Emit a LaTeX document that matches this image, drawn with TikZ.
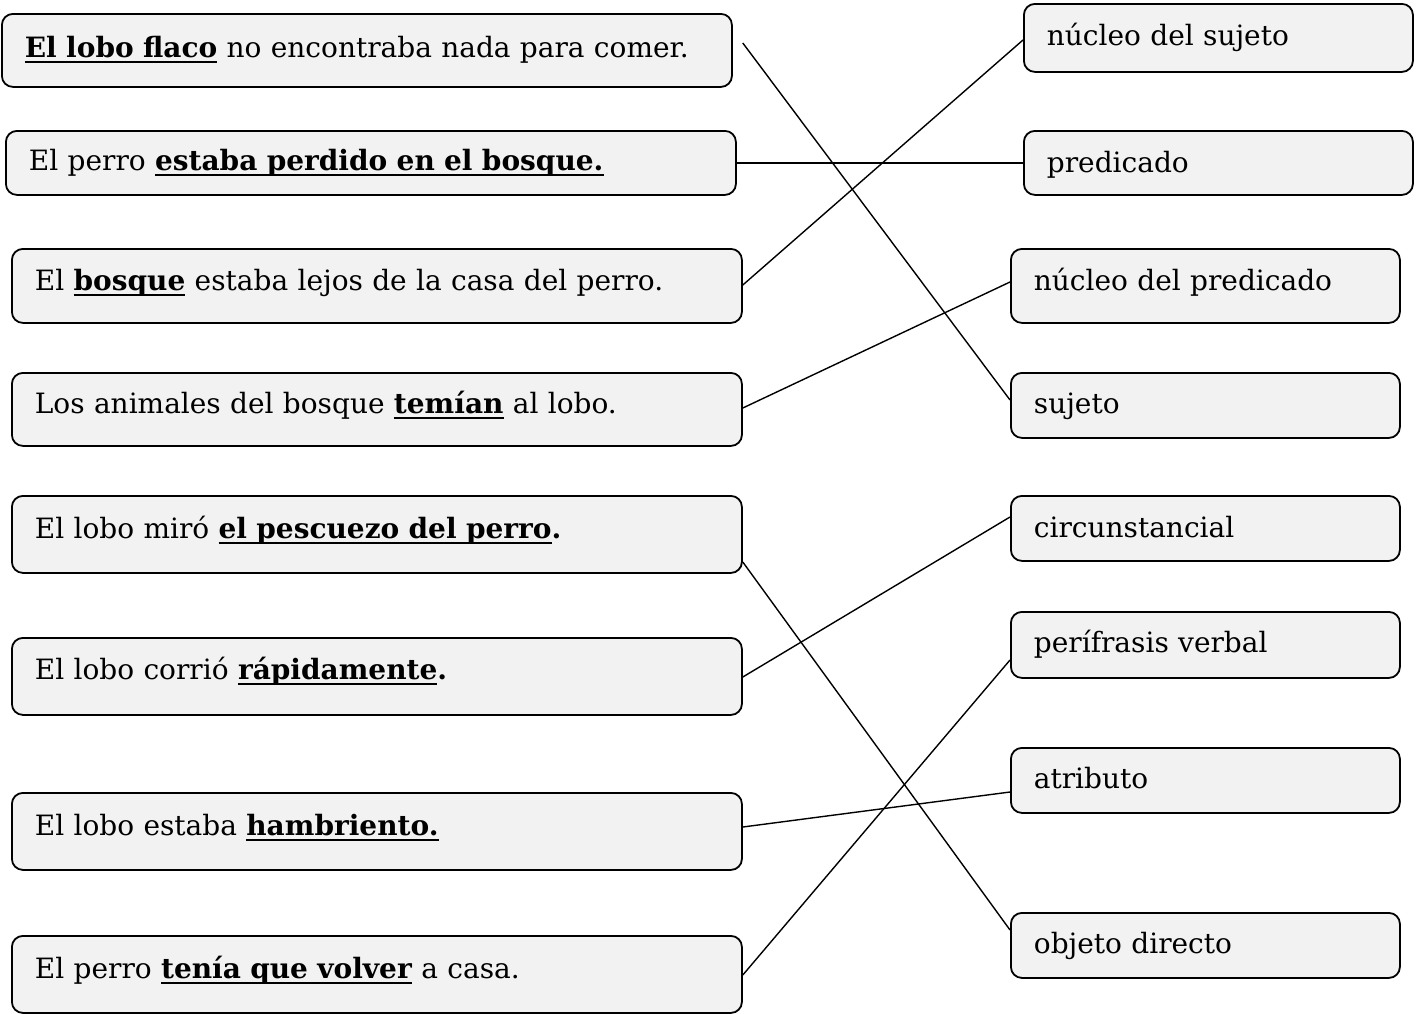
\documentclass[tikz,border=0pt]{standalone}
\usepackage{fontspec}
\setmainfont{DejaVu Serif}
\usetikzlibrary{calc}
\definecolor{boxfill}{HTML}{F2F2F2}
\newsavebox\ulbox
\newcommand\ulb[1]{\sbox\ulbox{\textbf{#1}}\rlap{\rule[-5pt]{\wd\ulbox}{2.2pt}}\usebox\ulbox}
\begin{document}
\begin{tikzpicture}[x=1pt,y=-1pt,
  box/.style={draw=black,line width=1.8pt,fill=boxfill,rounded corners=11pt,
    anchor=north west,inner xsep=23pt,inner ysep=0pt,align=left,
    font=\fontsize{28}{32}\selectfont},
  lbox/.style={box,text width=684pt},
  rbox/.style={box,text width=343pt},
  link/.style={line width=1.4pt}]
\useasboundingbox (0,0) rectangle (1421,1013);
% left column
\node[lbox,text height=44pt,text depth=29pt] (b1) at (1,13) {\ulb{El lobo flaco} no encontraba nada para comer.};
\node[lbox,text height=40pt,text depth=24pt] (b2) at (5,130) {El perro \ulb{estaba perdido en el bosque.}};
\node[lbox,text height=42pt,text depth=32pt] (b3) at (11,248) {El \ulb{bosque} estaba lejos de la casa del perro.};
\node[lbox,text height=41pt,text depth=32pt] (b4) at (11,372) {Los animales del bosque \ulb{temían} al lobo.};
\node[lbox,text height=43pt,text depth=34pt] (b5) at (11,495) {El lobo miró \ulb{el pescuezo del perro}\textbf{.}};
\node[lbox,text height=42pt,text depth=35pt] (b6) at (11,637) {El lobo corrió \ulb{rápidamente}\textbf{.}};
\node[lbox,text height=43pt,text depth=34pt] (b7) at (11,792) {El lobo estaba \ulb{hambriento.}};
\node[lbox,text height=43pt,text depth=34pt] (b8) at (11,935) {El perro \ulb{tenía que volver} a casa.};
% right column
\node[rbox,text height=42pt,text depth=26pt] (r1) at (1023,3) {núcleo del sujeto};
\node[rbox,text height=42pt,text depth=22pt] (r2) at (1023,130) {predicado};
\node[rbox,text height=42pt,text depth=32pt] (r3) at (1010,248) {núcleo del predicado};
\node[rbox,text height=41pt,text depth=24pt] (r4) at (1010,372) {sujeto};
\node[rbox,text height=42pt,text depth=23pt] (r5) at (1010,495) {circunstancial};
\node[rbox,text height=41pt,text depth=25pt] (r6) at (1010,611) {perífrasis verbal};
\node[rbox,text height=41pt,text depth=24pt] (r7) at (1010,747) {atributo};
\node[rbox,text height=41pt,text depth=24pt] (r8) at (1010,912) {objeto directo};
% connectors
\draw[link] ($(b1.north east)+(10,30)$) -- ($(r4.north west)+(0,28)$);
\draw[link,line width=1.8pt] (b2.east) -- (r2.west);
\draw[link] ($(b3.north east)+(0,37)$) -- ($(r1.north west)+(0,37)$);
\draw[link] ($(b4.north east)+(0,36)$) -- ($(r3.north west)+(0,34)$);
\draw[link] ($(b5.north east)+(0,67)$) -- ($(r8.north west)+(0,18)$);
\draw[link] ($(b6.north east)+(0,40)$) -- ($(r5.north west)+(0,22)$);
\draw[link] ($(b7.north east)+(0,35)$) -- ($(r7.north west)+(0,45)$);
\draw[link] ($(b8.north east)+(0,40)$) -- ($(r6.north west)+(0,49)$);
\end{tikzpicture}
\end{document}
